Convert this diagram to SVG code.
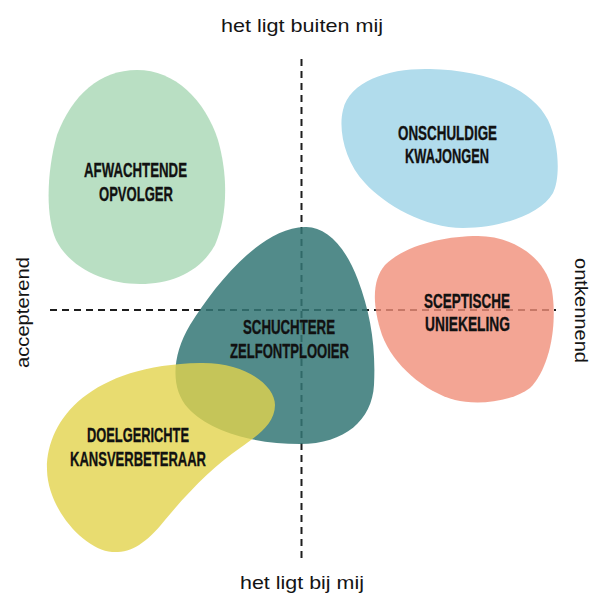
<svg xmlns="http://www.w3.org/2000/svg" width="594" height="596" viewBox="0 0 594 596">
<defs>
<style>
.axis{fill:none;stroke:#1e1e1e;stroke-width:2;stroke-dasharray:7 5}
.lbl{font-family:"Liberation Sans",Arial,sans-serif;font-weight:bold;font-size:21px;fill:#111111;stroke:#111111;stroke-width:0.35;text-anchor:middle}
.ax{font-family:"Liberation Sans",Arial,sans-serif;font-size:18.5px;fill:#141414;text-anchor:middle}
</style>
</defs>
<rect width="594" height="596" fill="#ffffff"/>
<g id="connectors">
<line class="axis" x1="301.5" y1="59" x2="301.5" y2="563"/>
<line class="axis" x1="50" y1="310" x2="556" y2="310"/>
</g>
<g id="afwachtende-opvolger">
<path d="M137,70 C175,70 205,100 218,140 C228,175 228,215 215,245 C200,272 172,284 140,284 C105,284 70,268 56,240 C45,215 47,170 57,135 C72,95 100,70 137,70 Z" fill="#b9dfc3"/>
<text class="lbl" x="135.5" y="176.5" textLength="103" lengthAdjust="spacingAndGlyphs">AFWACHTENDE</text>
<text class="lbl" x="136" y="200.5" textLength="74" lengthAdjust="spacingAndGlyphs">OPVOLGER</text>
</g>
<g id="onschuldige-kwajongen">
<path d="M343,110 C350,80 390,68 430,69 C480,70 530,85 548,120 C560,145 560,180 553,193 C540,215 500,228 463,228 C425,228 385,205 365,183 C345,162 338,130 343,110 Z" fill="#b1dcec"/>
<text class="lbl" x="447.5" y="139.5" textLength="99" lengthAdjust="spacingAndGlyphs">ONSCHULDIGE</text>
<text class="lbl" x="447" y="163" textLength="84" lengthAdjust="spacingAndGlyphs">KWAJONGEN</text>
</g>
<g id="sceptische-uniekeling">
<path d="M478,236 C510,236 545,255 552,290 C558,330 548,370 530,388 C510,403 475,405 455,400 C425,392 393,365 382,335 C372,305 372,280 385,265 C405,245 445,236 478,236 Z" fill="#f08e79" fill-opacity="0.8"/>
<text class="lbl" x="467" y="307.5" textLength="86" lengthAdjust="spacingAndGlyphs">SCEPTISCHE</text>
<text class="lbl" x="467.5" y="331" textLength="85" lengthAdjust="spacingAndGlyphs">UNIEKELING</text>
</g>
<g id="schuchtere-zelfontplooier">
<path d="M305,227 C325,226 345,245 358,280 C370,312 376,345 374,385 C372,420 345,444 300,444 C255,444 210,432 188,408 C170,388 172,355 190,325 C215,285 260,228 305,227 Z" fill="#347776" fill-opacity="0.85"/>
</g>
<g id="doelgerichte-kansverbeteraar">
<path d="M200,363 C245,362 275,385 275,405 C275,425 255,437 240,448 C215,465 190,490 165,520 C145,545 130,553 112,552 C85,550 48,510 47,470 C46,420 90,365 200,363 Z" fill="#e2d34c" fill-opacity="0.8"/>
<text class="lbl" x="138" y="442" textLength="102" lengthAdjust="spacingAndGlyphs">DOELGERICHTE</text>
<text class="lbl" x="138" y="465.5" textLength="136" lengthAdjust="spacingAndGlyphs">KANSVERBETERAAR</text>
</g>
<g id="schuchtere-labels">
<text class="lbl" x="289" y="333.5" textLength="92" lengthAdjust="spacingAndGlyphs">SCHUCHTERE</text>
<text class="lbl" x="289.5" y="357.5" textLength="119" lengthAdjust="spacingAndGlyphs">ZELFONTPLOOIER</text>
</g>
<g id="axis-labels">
<text class="ax" x="302" y="32" textLength="162" lengthAdjust="spacingAndGlyphs">het ligt buiten mij</text>
<text class="ax" x="302" y="589" textLength="124" lengthAdjust="spacingAndGlyphs">het ligt bij mij</text>
<text class="ax" transform="translate(29,312.5) rotate(-90)" x="0" y="0" textLength="111" lengthAdjust="spacingAndGlyphs">accepterend</text>
<text class="ax" transform="translate(575,310.5) rotate(90)" x="0" y="0" textLength="105" lengthAdjust="spacingAndGlyphs">ontkennend</text>
</g>
</svg>
